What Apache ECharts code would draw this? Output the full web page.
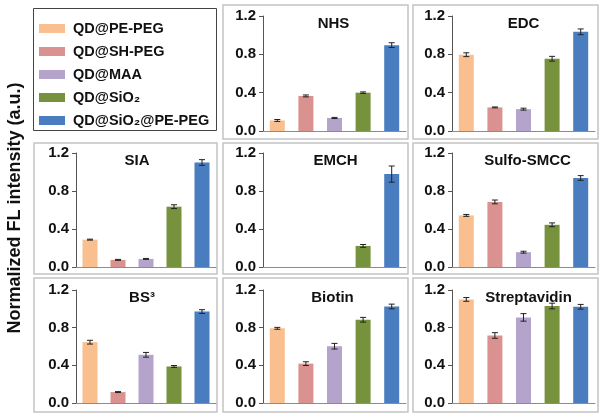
<!DOCTYPE html>
<html><head><meta charset="utf-8">
<script src="https://cdn.jsdelivr.net/npm/echarts@6/dist/echarts.min.js"></script>
<style>html,body{margin:0;padding:0;background:#fff}#c{width:602px;height:418px}</style>
</head><body><div id="c"></div>
<script>
var seriesNames = ['QD@PE-PEG','QD@SH-PEG','QD@MAA','QD@SiO\u2082','QD@SiO\u2082@PE-PEG'];
var colors = ['#F9BF8F','#D9928F','#B4A3CB','#76923C','#4A7DC0'];
var panelTitles = ['NHS','EDC','SIA','EMCH','Sulfo-SMCC','BS\u00b3','Biotin','Streptavidin'];
var yTicks = [0, 0.4, 0.8, 1.2];
var valNHS = [0.11, 0.366, 0.136, 0.40, 0.896];
var errNHS = [0.01, 0.01, 0.006, 0.008, 0.025];
var valEDC = [0.796, 0.246, 0.228, 0.754, 1.035];
var errEDC = [0.02, 0.005, 0.01, 0.025, 0.03];
var valSIA = [0.288, 0.075, 0.085, 0.635, 1.10];
var errSIA = [0.005, 0.005, 0.005, 0.02, 0.03];
var valEMCH = [null, null, null, 0.222, 0.978];
var errEMCH = [null, null, null, 0.015, 0.085];
var valSMCC = [0.543, 0.685, 0.156, 0.444, 0.937];
var errSMCC = [0.01, 0.02, 0.01, 0.02, 0.025];
var valBS3 = [0.646, 0.116, 0.512, 0.388, 0.971];
var errBS3 = [0.02, 0.005, 0.025, 0.01, 0.02];
var valBiotin = [0.793, 0.418, 0.603, 0.884, 1.025];
var errBiotin = [0.01, 0.02, 0.03, 0.025, 0.025];
var valStrep = [1.10, 0.717, 0.909, 1.03, 1.022];
var errStrep = [0.02, 0.03, 0.04, 0.03, 0.025];

var allVals = [valNHS, valEDC, valSIA, valEMCH, valSMCC, valBS3, valBiotin, valStrep];
var allErrs = [errNHS, errEDC, errSIA, errEMCH, errSMCC, errBS3, errBiotin, errStrep];

// layout
var colLeft = [76, 263, 452], colWidth = [140, 143, 143];
var rowTop = [16, 153, 290], rowHeight = [115, 114, 113];
var boxX = [[34,217],[223,408],[413,598]];
var boxY = [[5,139],[143,274],[278,412]];
var titleTop = [11, 148, 285];
var titleShift = [-6, -5, -14, -4, -1, -9, -7, 0];
var cells = [[1,0],[2,0],[0,1],[1,1],[2,1],[0,2],[1,2],[2,2]];

var grids = [], xAxes = [], yAxes = [], series = [], titles = [], graphics = [];
cells.forEach(function(cr, g){
  var c = cr[0], r = cr[1];
  grids.push({left: colLeft[c], top: rowTop[r], width: colWidth[c], height: rowHeight[r]});
  xAxes.push({type:'category', gridIndex:g, data: seriesNames, axisLine:{lineStyle:{color:'#8c8c8c', width:1}},
    axisTick:{show:false}, axisLabel:{show:false}});
  yAxes.push({type:'value', gridIndex:g, min:0, max:1.2, interval:0.4,
    axisLine:{show:true, lineStyle:{color:'#555', width:1}},
    axisTick:{show:true, length:4, lineStyle:{color:'#555'}},
    splitLine:{show:false},
    axisLabel:{color:'#111', fontWeight:'bold', fontSize:15, fontFamily:'Liberation Sans, Arial, sans-serif', margin:7,
      formatter:function(v){return v.toFixed(1);}}});
  var vals = allVals[g], errs = allErrs[g];
  seriesNames.forEach(function(name, i){
    var d = vals.map(function(v, j){ return j === i ? v : null; });
    series.push({type:'bar', name:name, xAxisIndex:g, yAxisIndex:g, data:d, barWidth:15, barGap:'-100%',
      itemStyle:{color:colors[i]}, silent:true, animation:false});
  });
  var ed = [];
  vals.forEach(function(v, j){ if (v != null && errs[j] != null) ed.push([j, v, errs[j]]); });
  series.push({type:'custom', xAxisIndex:g, yAxisIndex:g, data:ed, z:10, animation:false, silent:true,
    encode:{x:0, y:1},
    renderItem:function(params, api){
      var x = api.value(0), v = api.value(1), e = api.value(2);
      var top = api.coord([x, v + e]), bot = api.coord([x, v - e]);
      var st = {stroke:'#222', lineWidth:1};
      return {type:'group', children:[
        {type:'line', shape:{x1:top[0], y1:top[1], x2:bot[0], y2:bot[1]}, style:st},
        {type:'line', shape:{x1:top[0]-3, y1:top[1], x2:top[0]+3, y2:top[1]}, style:st},
        {type:'line', shape:{x1:bot[0]-3, y1:bot[1], x2:bot[0]+3, y2:bot[1]}, style:st}
      ]};
    }});
  titles.push({text: panelTitles[g], left: colLeft[c] + colWidth[c]/2 + titleShift[g], top: titleTop[r], textAlign:'center',
    textStyle:{fontSize:15, fontWeight:'bold', color:'#111', fontFamily:'Liberation Sans, Arial, sans-serif'}});
  graphics.push({type:'rect', shape:{x:boxX[c][0], y:boxY[r][0], width:boxX[c][1]-boxX[c][0], height:boxY[r][1]-boxY[r][0]},
    style:{fill:'none', stroke:'#c4c4c4', lineWidth:1.5}, z:-1});
});
// legend box
graphics.push({type:'rect', shape:{x:33.5, y:8.5, width:183, height:122}, style:{fill:'none', stroke:'#444', lineWidth:1}, z:-1});
// y axis title
graphics.push({type:'text', x:15, y:208, rotation:Math.PI/2,
  style:{text:'Normalized FL intensity (a.u.)', fontSize:18, fontWeight:'bold', fill:'#111',
    fontFamily:'Liberation Sans, Arial, sans-serif', textAlign:'center', textVerticalAlign:'middle'}});

var chart = echarts.init(document.getElementById('c'), null, {renderer:'canvas'});
chart.setOption({
  animation:false,
  title: titles,
  grid: grids, xAxis: xAxes, yAxis: yAxes, series: series,
  legend: {data: seriesNames, orient:'vertical', left:39, top:21, padding:0, itemWidth:26, itemHeight:9, itemGap:8,
    icon:'rect', selectedMode:false,
    textStyle:{fontSize:14.5, fontWeight:'bold', color:'#111', fontFamily:'Liberation Sans, Arial, sans-serif', padding:[0,0,0,3]}},
  graphic: graphics
});
</script></body></html>
